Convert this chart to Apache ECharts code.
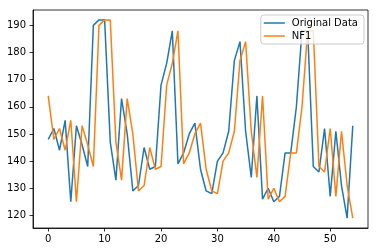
<!DOCTYPE html>
<html>
<head>
<meta charset="utf-8">
<script src="https://cdn.jsdelivr.net/npm/echarts@6/dist/echarts.min.js"></script>
<style>
html,body{margin:0;padding:0;background:#fff;}
#chart{width:378px;height:252px;}
</style>
</head>
<body>
<div id="chart"></div>
<script>
var xValues = [];
for (var k = 0; k <= 54; k++) xValues.push(k);
var originalData = [148,152,144,155,125,153,146,138,190,192,192,147,133,163,150,129,131,145,137,138,168,176,188,139,143,150,154,137,129,128,140,143,151,177,184,151,134,164,126,130,125,127,143,143,160,188,188,138,136,152,127,151,131,119,153];
var nf1Data = [164,148,152,144,155,125,153,146,138,190,192,192,147,133,163,150,129,131,145,137,138,168,176,188,139,143,150,154,137,129,128,140,143,151,177,184,151,134,164,126,130,125,127,143,143,160,188,188,138,136,152,127,151,131,119];
var xTicks = [0,10,20,30,40,50];
var yTicks = [120,130,140,150,160,170,180,190];
var seriesNames = ['Original Data','NF1'];

function pairs(vals){ return vals.map(function(v,i){ return [xValues[i], v]; }); }

var chart = echarts.init(document.getElementById('chart'), null, {renderer:'canvas'});
var font = 'DejaVu Sans';
chart.setOption({
  animation: false,
  backgroundColor: '#fff',
  textStyle: {fontFamily: font},
  grid: {left: 33, right: 10, top: 10, bottom: 24, show: true, borderColor: '#000', borderWidth: 0.8, backgroundColor: 'transparent'},
  xAxis: {
    type: 'value', min: -2.7, max: 56.7,
    splitLine: {show: false},
    axisLine: {show: true, onZero: false, lineStyle: {color: '#000', width: 0.8}},
    axisTick: {show: true, inside: false, length: 3.5, lineStyle: {color: '#000', width: 0.8}, customValues: xTicks},
    axisLabel: {color: '#000', fontSize: 10, fontFamily: font, margin: 6, customValues: xTicks, showMinLabel: true, showMaxLabel: true}
  },
  yAxis: {
    type: 'value', min: 115.35, max: 195.65,
    splitLine: {show: false},
    axisLine: {show: true, onZero: false, lineStyle: {color: '#000', width: 0.8}},
    axisTick: {show: true, inside: false, length: 3.5, lineStyle: {color: '#000', width: 0.8}, customValues: yTicks},
    axisLabel: {color: '#000', fontSize: 10, fontFamily: font, margin: 7, customValues: yTicks}
  },
  legend: {
    orient: 'vertical', right: 14, top: 15,
    backgroundColor: 'rgba(255,255,255,0.8)', borderColor: '#ccc', borderWidth: 1, borderRadius: 3,
    padding: [3, 6, 3, 3], itemGap: 3,
    itemWidth: 21, itemHeight: 12,
    textStyle: {color: '#000', fontSize: 10, fontFamily: font, padding: [0,0,0,2]},
    data: [
      {name: seriesNames[0], icon: 'path://M0,5.25 L21,5.25 L21,6.75 L0,6.75 Z'},
      {name: seriesNames[1], icon: 'path://M0,5.25 L21,5.25 L21,6.75 L0,6.75 Z'}
    ]
  },
  series: [
    {name: seriesNames[0], type: 'line', data: pairs(originalData), showSymbol: false, symbol: 'none', color: '#1f77b4', lineStyle: {width: 1.5, color: '#1f77b4'}, z: 2},
    {name: seriesNames[1], type: 'line', data: pairs(nf1Data), showSymbol: false, symbol: 'none', color: '#ff7f0e', lineStyle: {width: 1.5, color: '#ff7f0e'}, z: 3}
  ]
});
</script>
</body>
</html>
